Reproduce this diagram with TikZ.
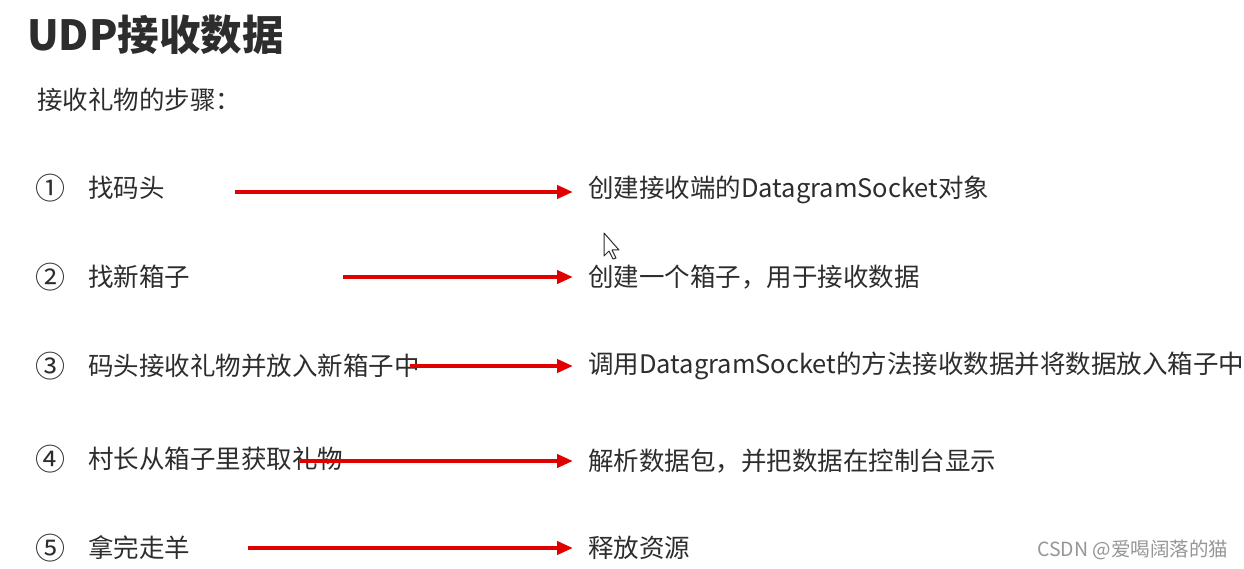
\documentclass[tikz,border=0pt]{standalone}
\usepackage{fontspec}
\setmainfont{Noto Sans CJK SC}
\usetikzlibrary{arrows.meta}
\definecolor{inkgrey}{RGB}{45,45,45}
\definecolor{arrowred}{RGB}{225,0,0}
\definecolor{markgrey}{RGB}{150,150,150}
\begin{document}
\begin{tikzpicture}[x=1pt, y=-1pt,
    txt/.style={anchor=west, inner sep=0pt, text=inkgrey, font=\fontsize{25.5}{30}\selectfont},
    num/.style={txt, font=\fontsize{30}{34}\selectfont},
    redarrow/.style={draw=arrowred, line width=4pt, shorten >=15pt,
        -{Triangle[length=16pt, width=13pt]}}]
    \useasboundingbox[fill=white] (0,0) rectangle (1244,569);
    % heading
    \node[anchor=west, inner sep=0pt, text=inkgrey, font=\fontsize{41.5}{48}\selectfont\bfseries] (title) at (27,35) {UDP接收数据};
    \node[txt] (intro) at (37,100) {接收礼物的步骤：};
    % steps
    \node[num] (n1) at (35,188) {①}; \node[txt] (l1) at (88,188) {找码头};
    \node[num] (n2) at (35,277) {②}; \node[txt] (l2) at (88,277) {找新箱子};
    \node[num] (n3) at (35,366) {③}; \node[txt] (l3) at (88,366) {码头接收礼物并放入新箱子中};
    \node[num] (n4) at (35,459) {④}; \node[txt] (l4) at (88,459) {村长从箱子里获取礼物};
    \node[num] (n5) at (35,548) {⑤}; \node[txt] (l5) at (88,548) {拿完走羊};
    \node[txt] (r1) at (588,190) {创建接收端的DatagramSocket对象};
    \node[txt] (r2) at (588,277) {创建一个箱子，用于接收数据};
    \node[txt] (r3) at (588,366) {调用DatagramSocket的方法接收数据并将数据放入箱子中};
    \node[txt] (r4) at (588,461) {解析数据包，并把数据在控制台显示};
    \node[txt] (r5) at (588,548) {释放资源};
    % arrow tails
    \coordinate (s1) at (235,192); \coordinate (s2) at (343,277);
    \coordinate (s3) at (410,366); \coordinate (s4) at (300,461);
    \coordinate (s5) at (248,548);
    \draw[redarrow] (s1) -- (s1 -| r1.west);
    \draw[redarrow] (s2) -- (s2 -| r2.west);
    \draw[redarrow] (s3) -- (s3 -| r3.west);
    \draw[redarrow] (s4) -- (s4 -| r4.west);
    \draw[redarrow] (s5) -- (s5 -| r5.west);
    % mouse pointer
    \draw[inkgrey, line width=1pt, fill=white, line join=round] (604,233) -- (604,256) -- (609,251) -- (613,259) -- (616,258) -- (612,250) -- (619,250) -- cycle;
    % watermark
    \node[anchor=west, inner sep=0pt, text=markgrey, font=\fontsize{19.5}{23}\selectfont] (mark) at (1037,550) {CSDN @爱喝阔落的猫};
\end{tikzpicture}
\end{document}
